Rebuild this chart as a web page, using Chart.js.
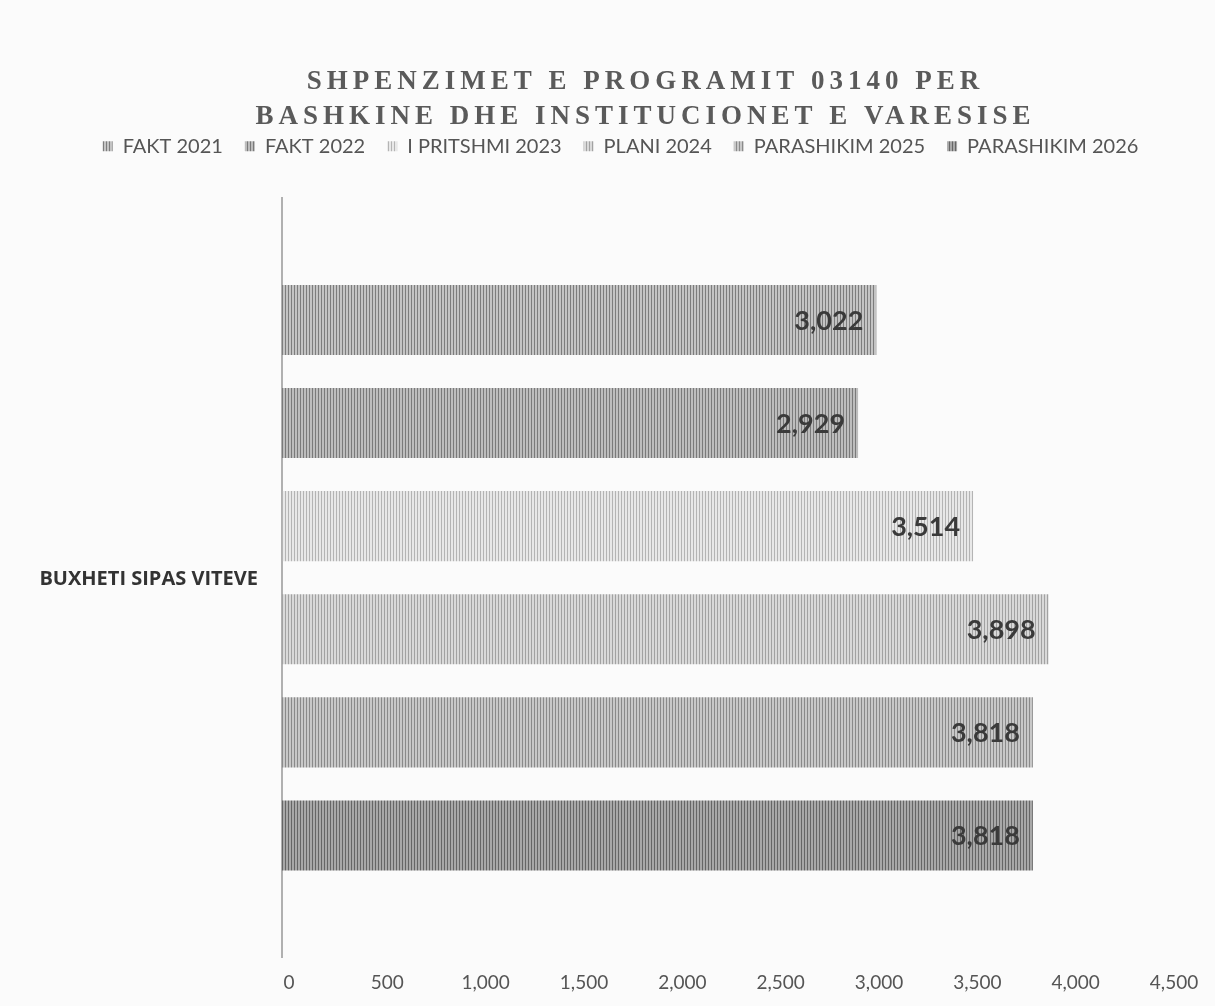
<!DOCTYPE html>
<html><head><meta charset="utf-8">
<script src="https://cdn.jsdelivr.net/npm/chart.js@4"></script>
<style>html,body{margin:0;padding:0;background:#fbfbfb;}#wrap{width:1215px;height:1006px;}</style>
</head><body><div id="wrap"><canvas id="c" width="1215" height="1006"></canvas></div>
<script>
const categories = ["BUXHETI SIPAS VITEVE"];
const seriesNames = ["FAKT 2021","FAKT 2022","I PRITSHMI 2023","PLANI 2024","PARASHIKIM 2025","PARASHIKIM 2026"];
const fakt2021 = [3022];
const fakt2022 = [2929];
const pritshmi2023 = [3514];
const plani2024 = [3898];
const parashikim2025 = [3818];
const parashikim2026 = [3818];
const xTicks = [0,500,1000,1500,2000,2500,3000,3500,4000,4500];
const titleLines = ["SHPENZIMET E PROGRAMIT 03140 PER","BASHKINE DHE INSTITUCIONET E VARESISE"];

const stripeColors = [["#7d7d7d","#c4c4c4"],["#7a7a7a","#bdbdbd"],["#b4b4b4","#e8e8e8"],["#a2a2a2","#d9d9d9"],["#8a8a8a","#c8c8c8"],["#666666","#a8a8a8"]];
function stripe(dark, light){
  const c = document.createElement('canvas'); c.width = 3; c.height = 4;
  const x = c.getContext('2d');
  x.fillStyle = light; x.fillRect(0,0,3,4);
  x.fillStyle = dark; x.fillRect(0,0,1,4);
  return x.createPattern(c,'repeat');
}
const ctx0 = document.getElementById('c').getContext('2d');
const values = [fakt2021,fakt2022,pritshmi2023,plani2024,parashikim2025,parashikim2026];
const datasets = seriesNames.map((n,i)=>({label:n,data:values[i],backgroundColor:stripe(stripeColors[i][0],stripeColors[i][1]),borderWidth:0}));

const helper = {
  id:'helper',
  beforeLayout(chart){
    const lg = chart.legend;
    if(lg && !lg._p){
      const f = lg.fit; lg.fit = function(){ f.call(this); this.height += 36; };
      const d = lg.draw; lg.draw = function(){ const c=this.ctx; c.save(); c.translate(37,4); d.call(this); c.restore(); };
      lg._p = true;
    }
    const tb = chart.titleBlock;
    if(tb && !tb._p){ const d = tb.draw; tb.draw = function(){ const c=this.ctx; c.save(); c.translate(62,24); c.letterSpacing='5px'; d.call(this); c.restore(); }; tb._p = true; }
  },
  afterDatasetsDraw(chart){
    const c = chart.ctx; c.save();
    c.font = 'bold 27px Lato'; c.fillStyle = '#3a3a3a'; c.textAlign='right'; c.textBaseline='middle';
    chart.data.datasets.forEach((ds,i)=>{
      chart.getDatasetMeta(i).data.forEach((b,j)=>{
        c.fillText(ds.data[j].toLocaleString('en-US'), b.x-13, b.y+1);
      });
    });
    c.restore();
  }
};

new Chart(ctx0,{
  type:'bar',
  data:{labels:categories,datasets},
  plugins:[helper],
  options:{
    indexAxis:'y',responsive:false,animation:false,
    layout:{padding:{top:40,left:0,right:48,bottom:6}},
    categoryPercentage:0.815,barPercentage:0.68,
    plugins:{
      title:{display:true,text:titleLines,color:'#5a5a5a',font:{family:'Liberation Serif',size:27,weight:'bold',lineHeight:1.3},padding:{top:0,bottom:0}},
      legend:{display:true,position:'top',labels:{color:'#555',font:{family:'Lato',size:20},boxWidth:10,boxHeight:10,padding:22}},
      tooltip:{enabled:false}
    },
    scales:{
      x:{min:0,max:4500,afterBuildTicks(s){s.ticks=xTicks.map(v=>({value:v}));},
         grid:{display:false},border:{display:false},
         ticks:{color:'#555',font:{family:'Lato',size:19},padding:6,labelOffset:7,callback:v=>v.toLocaleString('en-US')}},
      y:{afterFit(s){s.width=282;},grid:{display:false},border:{display:true,color:'#b0b0b0',width:2},
         ticks:{color:'#333',font:{family:'Open Sans',size:20,weight:'bold'},padding:16,labelOffset:2}}
    }
  }
});
</script></body></html>
